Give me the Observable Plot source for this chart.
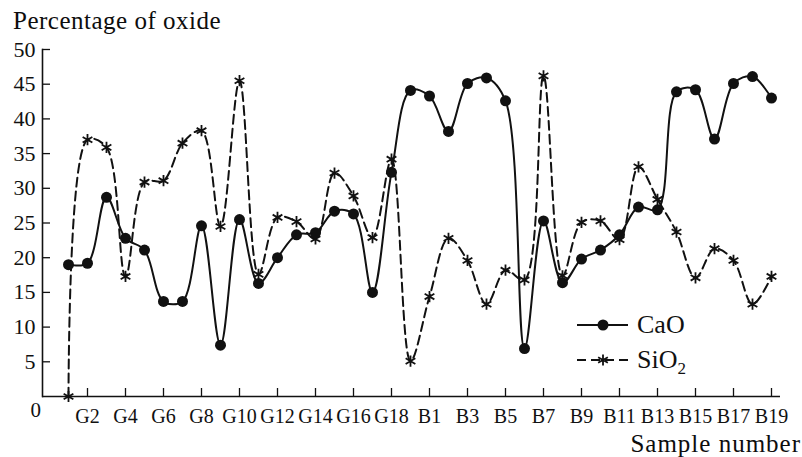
<!DOCTYPE html>
<html><head><meta charset="utf-8">
<script src="https://cdn.jsdelivr.net/npm/d3@7"></script>
<script src="https://cdn.jsdelivr.net/npm/@observablehq/plot@0.6"></script>
<style>
body{margin:0;background:#fff;}
#wrap{position:relative;width:802px;height:457px;font-family:"Liberation Serif","Times New Roman",serif;color:#0d0d0d;overflow:hidden;}
#title{box-sizing:border-box;height:36px;padding:3px 0 0 13px;line-height:36px;font-size:25px;letter-spacing:0.5px;white-space:nowrap;}
#xlabel{box-sizing:border-box;height:23px;line-height:19px;font-size:25px;text-align:right;padding-right:1px;letter-spacing:1px;white-space:nowrap;}
#legend{position:absolute;left:0;top:0;pointer-events:none;}
</style></head><body>
<div id="wrap">
  <div id="title">Percentage of oxide</div>
  <div id="chart"></div>
  <div id="xlabel">Sample number</div>
</div>
<script>
const categories = ["G1","G2","G3","G4","G5","G6","G7","G8","G9","G10","G11","G12","G13","G14","G15","G16","G17","G18","G19",
  "B1","B2","B3","B4","B5","B6","B7","B8","B9","B10","B11","B12","B13","B14","B15","B16","B17","B18","B19"];
const caoValues = [19.0, 19.2, 28.7, 22.8, 21.1, 13.7, 13.7, 24.6, 7.4, 25.5, 16.3, 20.0, 23.3, 23.6, 26.7, 26.3, 15.0, 32.3, 44.1,
  43.3, 38.2, 45.1, 45.9, 42.6, 6.9, 25.3, 16.4, 19.8, 21.1, 23.3, 27.3, 26.9, 43.9, 44.2, 37.1, 45.1, 46.1, 43.0];
const sio2Values = [0.0, 37.0, 35.9, 17.3, 30.9, 31.1, 36.5, 38.3, 24.5, 45.5, 17.6, 25.8, 25.2, 22.7, 32.2, 28.9, 22.9, 34.2, 5.1,
  14.4, 22.8, 19.6, 13.3, 18.2, 16.8, 46.2, 17.4, 25.1, 25.3, 22.6, 33.1, 28.4, 23.7, 17.1, 21.3, 19.6, 13.3, 17.3];
const xTickLabels = ["G2","G4","G6","G8","G10","G12","G14","G16","G18","B1","B3","B5","B7","B9","B11","B13","B15","B17","B19"];
const yTicks = [5,10,15,20,25,30,35,40,45,50];

const ink = "#111";
const font = "'Liberation Serif','Times New Roman',serif";
const caoData = categories.map((c,i)=>({sample:c, value:caoValues[i]}));
const sioData = categories.map((c,i)=>({sample:c, value:sio2Values[i]}));

const chart = Plot.plot({
  width: 802, height: 398,
  marginLeft: 42, marginRight: 22, marginTop: 13, marginBottom: 38,
  style: {fontFamily: font, fontSize: "20px", color: ink, background: "white", overflow: "visible"},
  x: {type: "point", domain: categories, insetLeft: 16, padding: 0},
  y: {domain: [0, 50]},
  marks: [
    Plot.frame({anchor: "left", stroke: ink, strokeWidth: 1.6}),
    Plot.ruleY([0], {stroke: ink, strokeWidth: 1.6}),
    Plot.axisY(yTicks, {anchor: "left", tickSize: -8, tickPadding: 15, fontSize: 22, stroke: ink, fill: ink, strokeWidth: 1.3, label: null}),
    Plot.axisX(xTickLabels, {anchor: "bottom", tickSize: -8, tickPadding: 20, fontSize: 20, stroke: ink, fill: ink, strokeWidth: 1.3, label: null}),
    Plot.text(["0"], {frameAnchor: "bottom-left", dx: -12, dy: 20, fontSize: 21, fill: ink}),
    Plot.line(sioData, {x: "sample", y: "value", curve: "catmull-rom", stroke: ink, strokeWidth: 2, strokeDasharray: "9,5"}),
    Plot.line(caoData, {x: "sample", y: "value", curve: "catmull-rom", stroke: ink, strokeWidth: 2}),
    Plot.dot(sioData, {x: "sample", y: "value", symbol: "asterisk", r: 5.3, stroke: ink, strokeWidth: 1.8}),
    Plot.dot(caoData, {x: "sample", y: "value", r: 5.5, fill: ink, stroke: "none"})
  ]
});
document.getElementById("chart").appendChild(chart);

// legend overlay
const leg = d3.select("#wrap").append("svg").attr("id","legend").attr("width",802).attr("height",457)
  .style("font-family", font).style("fill", ink);
const items = [{name:"CaO", y:325, dash:null}, {name:"SiO2", y:360, dash:"9,5"}];
items.forEach(it=>{
  leg.append("line").attr("x1",577).attr("x2",628).attr("y1",it.y).attr("y2",it.y)
    .attr("stroke",ink).attr("stroke-width",2).attr("stroke-dasharray",it.dash);
  if (it.name==="CaO") leg.append("circle").attr("cx",603).attr("cy",it.y).attr("r",5.5).attr("fill",ink);
  else leg.append("path").attr("d", d3.symbol(d3.symbolAsterisk, Math.PI*5.3*5.3)())
    .attr("transform",`translate(603,${it.y})`).attr("stroke",ink).attr("stroke-width",1.8).attr("fill","none");
  const t = leg.append("text").attr("x",637).attr("y",it.y+8).attr("font-size",26);
  if (it.name==="CaO") t.text("CaO");
  else { t.append("tspan").text("SiO"); t.append("tspan").attr("font-size",17).attr("dy",6).text("2"); }
});
</script>
</body></html>
